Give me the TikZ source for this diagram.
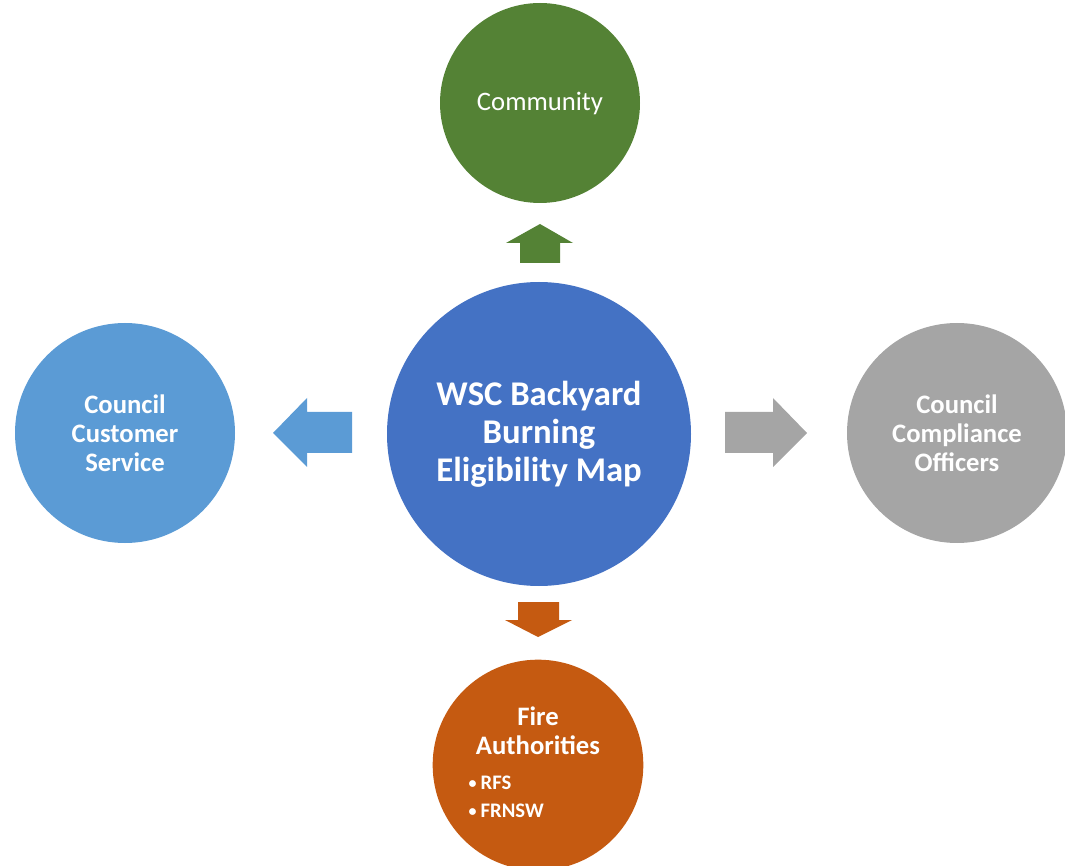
\documentclass[tikz,border=0pt]{standalone}
\usepackage{fontspec}
\setmainfont{Carlito}
\usetikzlibrary{positioning}

\definecolor{CommGreen}{HTML}{548235}
\definecolor{MapBlue}{HTML}{4472C4}
\definecolor{CustBlue}{HTML}{5B9BD5}
\definecolor{CompGray}{HTML}{A5A5A5}
\definecolor{FireOrange}{HTML}{C55A11}

\newcommand{\listdot}{\raisebox{1pt}{\fontsize{12}{12}\selectfont\textbullet}\hspace{3pt}}

\begin{document}
\begin{tikzpicture}[x=0.75pt,y=-0.75pt]
  \tikzstyle{Disc}=[circle, inner sep=0pt, text=white, align=center]
  \tikzstyle{SpokeText}=[font=\bfseries\fontsize{20}{21.75}\selectfont]
 \useasboundingbox (0,0) rectangle (1065,866);
 \node[Disc, fill=MapBlue, minimum size=228pt,
       font=\bfseries\fontsize{26}{28.5}\selectfont] (map) at (539,434)
       {WSC Backyard\\Burning\\Eligibility Map};
 \node[Disc, fill=CommGreen, minimum size=150pt,
       font=\fontsize{20}{22}\selectfont] (comm) at (540,103) {Community};
 \node[Disc, SpokeText, fill=CustBlue, minimum size=165pt] (cust) at (125,433)
       {Council\\Customer\\Service};
 \node[Disc, SpokeText, fill=CompGray, minimum size=165pt] (comp) at (957,433)
       {Council\\Compliance\\Officers};
 \node[Disc, fill=FireOrange, minimum size=158pt] (fire) at (538,765) {};
 \node[Disc, SpokeText] (fireTitle) at (538,731) {Fire\\Authorities};
 \node[anchor=west, text=white, align=left,
       font=\bfseries\fontsize{15.5}{21}\selectfont] (fireList) at (464,797)
       {\listdot RFS\\\listdot FRNSW};
 % block arrows
 \fill[CommGreen] (520,263) -- (520,243) -- (506,243) -- (540,224) -- (573,243)
       -- (560,243) -- (560,263) -- cycle;
 \fill[CustBlue] (352,412) -- (307,412) -- (307,398) -- (273,433) -- (307,467)
       -- (307,453) -- (352,453) -- cycle;
 \fill[CompGray] (725,412) -- (773,412) -- (773,398) -- (807,433) -- (773,467)
       -- (773,453) -- (725,453) -- cycle;
 \fill[FireOrange] (518,602) -- (559,602) -- (559,620) -- (572,620) -- (538,637)
       -- (505,620) -- (518,620) -- cycle;
\end{tikzpicture}
\end{document}
